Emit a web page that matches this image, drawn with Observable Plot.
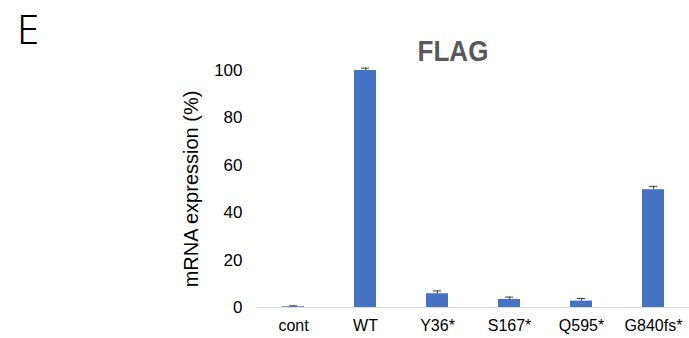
<!DOCTYPE html>
<html><head><meta charset="utf-8">
<script src="https://cdn.jsdelivr.net/npm/d3@7"></script>
<script src="https://cdn.jsdelivr.net/npm/@observablehq/plot@0.6"></script>
<style>
body{margin:0;background:#fff;}
#wrap{position:relative;width:689px;height:338px;font-family:"Liberation Sans",Arial,sans-serif;}
#panel{position:absolute;left:17px;top:5px;font-family:"Noto Sans",sans-serif;font-size:40px;line-height:48px;color:#000;font-weight:300;}
#title{position:absolute;left:353px;width:200px;top:36px;text-align:center;font-weight:bold;font-size:26px;line-height:1;color:#595959;transform:scale(1,1.12);transform-origin:50% 0;}
</style></head><body>
<div id="wrap"><div id="chart"></div><div id="panel">E</div><div id="title">FLAG</div></div>
<script>
const categories = ["cont","WT","Y36*","S167*","Q595*","G840fs*"];
const values = [0.3,100,5.8,3.4,2.7,49.7];
const errors = [0.4,1.0,1.2,1.0,1.1,1.4];
const yTicks = [0,20,40,60,80,100];
const data = categories.map((c,i)=>({c, v:values[i], e:errors[i]}));
const chart = Plot.plot({
  width:689, height:338,
  marginTop:70, marginBottom:31, marginLeft:257, marginRight:0,
  style:{fontFamily:"Liberation Sans, Arial, sans-serif", fontSize:"16px", color:"#000"},
  x:{domain:categories, paddingInner:0.69, paddingOuter:0.345, label:null},
  y:{domain:[0,100]},
  marks:[
    Plot.axisX({tickSize:0, tickPadding:12, fontSize:16, label:null}),
    Plot.axisY({ticks:yTicks, tickSize:0, tickPadding:15, fontSize:17, label:null}),
    Plot.axisY({ticks:[], label:"mRNA expression (%)", labelAnchor:"center", labelArrow:"none", labelOffset:74, fontSize:20}),
    Plot.barY(data,{x:"c", y:"v", fill:"#4472C4"}),
    Plot.ruleY([0],{stroke:"#d9d9d9", strokeWidth:1}),
    Plot.ruleX(data,{x:"c", y1:"v", y2:d=>d.v+d.e, stroke:"#404040", strokeWidth:1}),
    Plot.tickY(data,{x:"c", y:d=>d.v+d.e, stroke:"#404040", strokeWidth:1, insetLeft:7, insetRight:7})
  ]
});
document.getElementById("chart").appendChild(chart);
</script>
</body></html>
